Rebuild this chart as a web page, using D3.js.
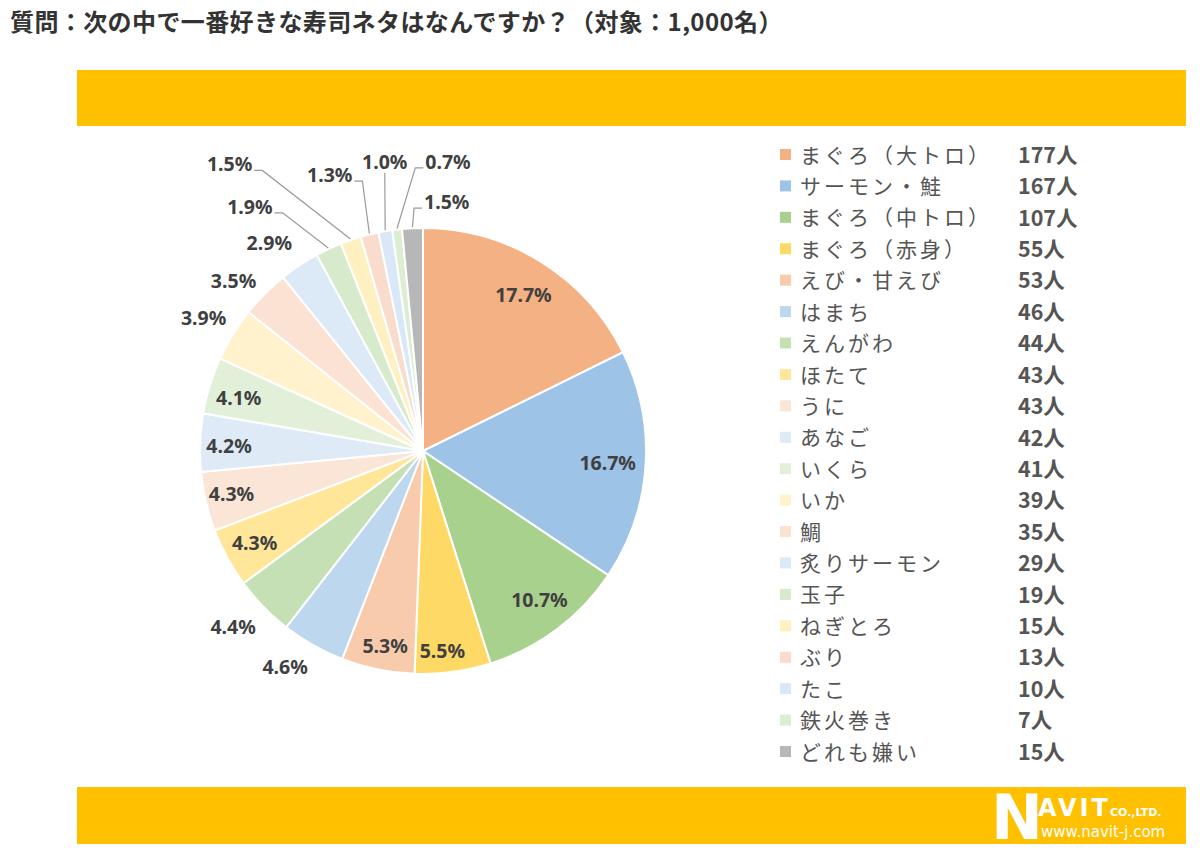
<!DOCTYPE html>
<html>
<head>
  <meta charset="utf-8">
  <title>寿司ネタ アンケート</title>
  <script src="https://d3js.org/d3.v7.min.js"></script>
  <style>
    body {
      margin: 0;
      background: #ffffff;
      font-family: "Noto Sans CJK JP", "Noto Sans", sans-serif;
    }
    .title {
      font-size: 24px;
      font-weight: 700;
      fill: #333333;
      letter-spacing: 0.4px;
    }
    .slice-label {
      font-size: 19.5px;
      font-weight: 700;
      fill: #404040;
      font-family: "Noto Sans", "Open Sans", sans-serif;
    }
    .legend-name {
      font-size: 21px;
      letter-spacing: 3px;
      fill: #555555;
    }
    .legend-value {
      font-size: 21.5px;
      font-weight: 700;
      fill: #555555;
    }
    .leader {
      fill: none;
      stroke: #9a9a9a;
      stroke-width: 1.2;
    }
  </style>
</head>
<body>
  <div id="chart"></div>

  <script>
    // survey data (1,000 respondents)
    const titleText = '質問：次の中で一番好きな寿司ネタはなんですか？（対象：1,000名）';
    const categories = [
      'まぐろ（大トロ）', 'サーモン・鮭', 'まぐろ（中トロ）', 'まぐろ（赤身）', 'えび・甘えび',
      'はまち', 'えんがわ', 'ほたて', 'うに', 'あなご',
      'いくら', 'いか', '鯛', '炙りサーモン', '玉子',
      'ねぎとろ', 'ぶり', 'たこ', '鉄火巻き', 'どれも嫌い'
    ];
    const counts = [177, 167, 107, 55, 53, 46, 44, 43, 43, 42, 41, 39, 35, 29, 19, 15, 13, 10, 7, 15];
    const total = 1000;

    const colors = [
      '#F4B183', '#9DC3E6', '#A9D18E', '#FFD966', '#F8CBAD',
      '#BDD7EE', '#C5E0B4', '#FFE699', '#FBE5D6', '#DEEBF7',
      '#E2F0D9', '#FFF2CC', '#FBE2D3', '#DCE9F6', '#D7EACB',
      '#FFF0C2', '#F9DCCB', '#D9E8F6', '#DCEED2', '#B7B7B7'
    ];

    // label placement: radius as fraction of pie radius, angle nudge in degrees
    const labelLayout = [
      { r: 0.83, da: 1 }, { r: 0.83, da: 0 }, { r: 0.85, da: -1 }, { r: 0.90, da: 2.2 },
      { r: 0.89, da: -0.7 }, { r: 1.15, da: 3 }, { r: 1.16, da: 1.5 }, { r: 0.86, da: 0 },
      { r: 0.88, da: 0.5 }, { r: 0.87, da: -0.7 }, { r: 0.86, da: -1 }, { r: 1.15, da: -0.3 },
      { r: 1.14, da: -3 }, { r: 1.16, da: -2.8 },
      { r: 1.24, da: -5.5, side: 'left' }, { r: 1.45, da: -10.9, side: 'left' },
      { r: 1.24, da: 1.2, side: 'left' }, { r: 1.26, da: 1.9, side: 'top' },
      { r: 1.27, da: 5.1, side: 'right' }, { r: 1.09, da: 0.6, side: 'right' }
    ];

    const width = 1200, height = 856;
    const cx = 423, cy = 451, radius = 223;

    const svg = d3.select('#chart').append('svg')
      .attr('width', width)
      .attr('height', height);

    svg.append('text')
      .attr('class', 'title')
      .attr('x', 10)
      .attr('y', 31)
      .text(titleText);

    // yellow bands
    svg.append('rect')
      .attr('x', 77).attr('y', 70)
      .attr('width', 1109).attr('height', 56)
      .attr('fill', '#FFC000');
    svg.append('rect')
      .attr('x', 77).attr('y', 787)
      .attr('width', 1109).attr('height', 57)
      .attr('fill', '#FFC000');

    // pie
    const items = categories.map((c, i) => ({ name: c, value: counts[i], i: i }));
    const pie = d3.pie().sort(null).value(d => d.value);
    const arcs = pie(items);
    const arc = d3.arc().innerRadius(0).outerRadius(radius);

    const g = svg.append('g').attr('transform', `translate(${cx},${cy})`);

    g.selectAll('path.slice')
      .data(arcs)
      .enter()
      .append('path')
      .attr('class', 'slice')
      .attr('d', arc)
      .attr('fill', d => colors[d.data.i])
      .attr('stroke', '#ffffff')
      .attr('stroke-width', 2);

    const fmt = d3.format('.1f');
    const polar = (ang, r) => [Math.sin(ang) * r, -Math.cos(ang) * r];

    arcs.forEach(d => {
      const lay = labelLayout[d.data.i];
      const mid = (d.startAngle + d.endAngle) / 2;
      const ang = mid + lay.da * Math.PI / 180;
      const [x, y] = polar(ang, radius * lay.r);
      const txt = fmt(d.data.value / total * 100) + '%';

      if (!lay.side) {
        g.append('text')
          .attr('class', 'slice-label')
          .attr('x', x).attr('y', y)
          .attr('text-anchor', 'middle')
          .attr('dy', '0.35em')
          .text(txt);
        return;
      }

      const [sx, sy] = polar(mid, radius + 1);
      let pts, tx, ty, anchor;
      if (lay.side === 'left') {
        pts = [[sx, sy], [x, y], [x - 8, y]];
        tx = x - 10; ty = y - 6; anchor = 'end';
      } else if (lay.side === 'right') {
        pts = [[sx, sy], [x, y], [x + 8, y]];
        tx = x + 10; ty = y - 6; anchor = 'start';
      } else {
        pts = [[sx, sy], [x, y]];
        tx = x; ty = y - 10; anchor = 'middle';
      }
      g.append('path')
        .attr('class', 'leader')
        .attr('d', d3.line()(pts));
      g.append('text')
        .attr('class', 'slice-label')
        .attr('x', tx).attr('y', ty)
        .attr('text-anchor', anchor)
        .attr('dy', '0.35em')
        .text(txt);
    });

    // legend
    const ly = d3.scalePoint()
      .domain(categories)
      .range([155, 752]);

    const legend = svg.append('g');
    const rows = legend.selectAll('g.row')
      .data(items)
      .enter()
      .append('g')
      .attr('class', 'row')
      .attr('transform', d => `translate(0,${ly(d.name)})`);

    rows.append('rect')
      .attr('x', 780).attr('y', -6)
      .attr('width', 11).attr('height', 11)
      .attr('fill', d => colors[d.i]);

    rows.append('text')
      .attr('class', 'legend-name')
      .attr('x', 800)
      .attr('dy', '0.36em')
      .text(d => d.name);

    rows.append('text')
      .attr('class', 'legend-value')
      .attr('x', 1018)
      .attr('dy', '0.36em')
      .text(d => d.value + '人');

    // logo
    const logo = svg.append('g').attr('fill', '#ffffff')
      .style('font-family', '"DejaVu Sans", Arial, sans-serif');
    logo.append('text')
      .attr('x', 991).attr('y', 839)
      .attr('font-size', 62).attr('font-weight', 900)
      .text('N');
    logo.append('text')
      .attr('x', 1038).attr('y', 816)
      .attr('font-size', 24).attr('font-weight', 700)
      .attr('letter-spacing', 3)
      .text('AVIT');
    logo.append('text')
      .attr('x', 1110).attr('y', 816)
      .attr('font-size', 11).attr('font-weight', 700)
      .text('CO.,LTD.');
    logo.append('text')
      .attr('x', 1041).attr('y', 837)
      .attr('font-size', 15)
      .text('www.navit-j.com');
  </script>
</body>
</html>
